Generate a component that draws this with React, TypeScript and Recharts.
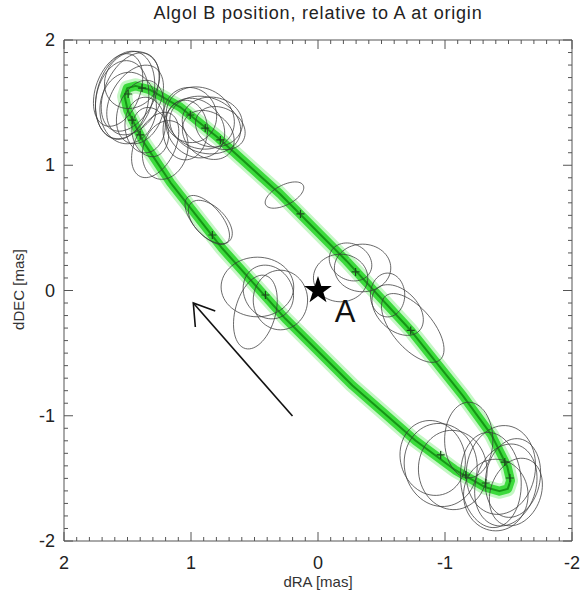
import { ScatterChart, Scatter, XAxis, YAxis } from 'recharts';

const W = 582;
const H = 591;
const FONT = '"Liberation Sans", Arial, sans-serif';

// fitted orbit of B around A, dRA / dDEC in mas
const orbitRA = [-0.225, -0.73, -1.14, -1.367, -1.49, -1.516, -1.494, -1.428, -1.318, -1.079, -0.767, -0.271, 0.256, 0.753, 1.16, 1.375, 1.498, 1.523, 1.502, 1.436, 1.326, 1.086, 0.787, 0.299, -0.225];
const orbitDEC = [0.236, -0.319, -0.839, -1.155, -1.405, -1.518, -1.584, -1.602, -1.571, -1.433, -1.198, -0.758, -0.226, 0.335, 0.86, 1.187, 1.437, 1.55, 1.616, 1.634, 1.603, 1.465, 1.219, 0.771, 0.236];

// error ellipses: centre, semi-major, semi-minor (mas), position angle (deg, N through E)
const ellRA = [1.519, 1.479, 1.542, 1.44, 1.495, 1.4, 1.574, 1.361, 1.464, 1.321, 1.282, 1.203,
  0.927, 0.888, 0.966, 0.832, 1.006, 0.864, 1.045, 0.769,
  0.872, 0.848, 0.264,
  0.477, 0.296, 0.493, 0.391,
  -0.178, -0.351, -0.256,
  -0.627, -0.746, -0.548,
  -0.966, -1.061, -0.903, -1.187, -1.44, -1.479, -1.4, -1.535, -1.361, -1.558];
const ellDEC = [1.561, 1.585, 1.521, 1.521, 1.457, 1.425, 1.601, 1.321, 1.681, 1.265, 1.162, 1.122,
  1.377, 1.321, 1.297, 1.345, 1.401, 1.242, 1.281, 1.297,
  0.563, 0.547, 0.762,
  0.028, -0.076, -0.172, -0.012,
  0.1, 0.18, 0.228,
  -0.156, -0.299, -0.036,
  -1.393, -1.433, -1.337, -1.194, -1.433, -1.553, -1.633, -1.497, -1.513, -1.609];
const ellMajor = [0.357, 0.333, 0.317, 0.302, 0.286, 0.262, 0.302, 0.222, 0.238, 0.198, 0.278, 0.238,
  0.278, 0.286, 0.254, 0.238, 0.222, 0.222, 0.238, 0.206,
  0.238, 0.214, 0.167,
  0.286, 0.238, 0.302, 0.222,
  0.214, 0.222, 0.175,
  0.238, 0.333, 0.175,
  0.333, 0.317, 0.302, 0.302, 0.357, 0.333, 0.286, 0.317, 0.381, 0.278];
const ellMinor = [0.222, 0.198, 0.206, 0.19, 0.222, 0.175, 0.175, 0.159, 0.206, 0.143, 0.159, 0.175,
  0.238, 0.222, 0.214, 0.198, 0.206, 0.175, 0.175, 0.159,
  0.111, 0.119, 0.079,
  0.238, 0.214, 0.159, 0.19,
  0.19, 0.19, 0.143,
  0.159, 0.159, 0.135,
  0.286, 0.27, 0.254, 0.19, 0.27, 0.238, 0.254, 0.214, 0.238, 0.198];
const ellPA = [-15, -25, -10, -30, -5, -20, -20, 0, -35, 10, -25, -15,
  60, 70, 40, 80, 20, 50, 0, 60,
  40, 45, -62,
  90, 0, -15, 30,
  90, 90, 60,
  45, 40, 0,
  10, 5, 15, 0, -10, -15, 0, -10, 5, -20];

// individual measurement positions
const obsRA = [1.495, 1.385, 1.464, 1.4, 1.006, 0.888, 0.769, 0.832, 0.138, 0.414, -0.296, -0.73, -0.966, -1.164, -1.321, -1.471, -1.511];
const obsDEC = [1.569, 1.616, 1.361, 1.242, 1.401, 1.297, 1.202, 0.443, 0.611, -0.036, 0.148, -0.319, -1.313, -1.473, -1.537, -1.37, -1.497];

// direction-of-motion arrow
const arrowRA = [0.201, 0.982];
const arrowDEC = [-1.002, -0.1];
const headRA = [0.809, 0.982, 0.966];
const headDEC = [-0.164, -0.1, -0.291];

const MAJOR_TICKS = [-2, -1, 0, 1, 2];
const ALL_TICKS = Array.from({ length: 41 }, (_, i) => Math.round((-2 + i * 0.1) * 10) / 10);

const toPts = (xs: number[], ys: number[]) => xs.map((x, i) => ({ x, y: ys[i] }));
const orbit = toPts(orbitRA, orbitDEC);
const obs = toPts(obsRA, obsDEC);
const arrow = toPts(arrowRA, arrowDEC);
const head = toPts(headRA, headDEC);

const ellipses = ellRA.map((cx, i) => {
  const pa = (ellPA[i] * Math.PI) / 180;
  const pts = [];
  for (let k = 0; k <= 64; k++) {
    const t = (2 * Math.PI * k) / 64;
    const u = ellMajor[i] * Math.cos(t);
    const v = ellMinor[i] * Math.sin(t);
    pts.push({ x: cx + u * Math.sin(pa) + v * Math.cos(pa), y: ellDEC[i] + u * Math.cos(pa) - v * Math.sin(pa) });
  }
  return pts;
});

const isMajor = (v: number) => MAJOR_TICKS.includes(v);
const noShape = () => <g />;

function AxisTick(props: any) {
  const { x, y, payload, side } = props;
  const v = payload.value;
  const len = isMajor(v) ? 9 : 4;
  const lab = v < 0 ? '-' + Math.abs(v) : String(v);
  if (side === 'bottom') {
    return (
      <g>
        <line x1={x} x2={x} y1={y} y2={y - len} stroke="#555" />
        {isMajor(v) && (
          <text x={x} y={y + 28} textAnchor="middle" fontSize={18} fontFamily={FONT} fill="#222">{lab}</text>
        )}
      </g>
    );
  }
  if (side === 'top') return <line x1={x} x2={x} y1={y} y2={y + len} stroke="#555" />;
  if (side === 'left') {
    return (
      <g>
        <line x1={x} x2={x + len} y1={y} y2={y} stroke="#555" />
        {isMajor(v) && (
          <text x={x - 9} y={y + 6} textAnchor="end" fontSize={18} fontFamily={FONT} fill="#222">{lab}</text>
        )}
      </g>
    );
  }
  return <line x1={x} x2={x - len} y1={y} y2={y} stroke="#555" />;
}

function Cross({ cx, cy }: any) {
  return <path d={`M${cx - 4},${cy}h8M${cx},${cy - 4}v8`} stroke="#1d4a1d" strokeWidth={1.2} />;
}

function StarA({ cx, cy }: any) {
  let d = '';
  for (let k = 0; k < 10; k++) {
    const ang = -Math.PI / 2 + (k * Math.PI) / 5;
    const r = k % 2 === 0 ? 14.5 : 5.6;
    d += (k ? 'L' : 'M') + (cx + r * Math.cos(ang)).toFixed(2) + ',' + (cy + r * Math.sin(ang)).toFixed(2);
  }
  return (
    <g>
      <path d={d + 'Z'} fill="#000" />
      <text x={cx + 27} y={cy + 31} fontSize={31} textAnchor="middle" fontFamily={FONT} fill="#111">A</text>
    </g>
  );
}

export default function App() {
  return (
    <div style={{ position: 'absolute', left: 0, top: 0, width: W, height: H, fontFamily: FONT, overflow: 'hidden' }}>
      <ScatterChart width={W} height={H} margin={{ top: 39, right: 9, bottom: 0, left: 0 }}>
        <XAxis type="number" dataKey="x" domain={[-2, 2]} reversed allowDataOverflow ticks={ALL_TICKS} interval={0}
          tickSize={0} tickMargin={0} tickLine={false} axisLine={{ stroke: '#555' }} height={50}
          tick={(p: any) => <AxisTick {...p} side="bottom" />} />
        <XAxis xAxisId="t" orientation="top" type="number" dataKey="x" domain={[-2, 2]} reversed allowDataOverflow
          ticks={ALL_TICKS} interval={0} tickSize={0} tickMargin={0} tickLine={false} axisLine={{ stroke: '#555' }} height={1}
          tick={(p: any) => <AxisTick {...p} side="top" />} />
        <YAxis type="number" dataKey="y" domain={[-2, 2]} allowDataOverflow ticks={ALL_TICKS} interval={0}
          tickSize={0} tickMargin={0} tickLine={false} axisLine={{ stroke: '#555' }} width={64}
          tick={(p: any) => <AxisTick {...p} side="left" />} />
        <YAxis yAxisId="r" orientation="right" type="number" dataKey="y" domain={[-2, 2]} allowDataOverflow
          ticks={ALL_TICKS} interval={0} tickSize={0} tickMargin={0} tickLine={false} axisLine={{ stroke: '#555' }} width={1}
          tick={(p: any) => <AxisTick {...p} side="right" />} />

        <Scatter xAxisId="t" yAxisId="r" data={[{ x: 0, y: 0 }]} shape={noShape} isAnimationActive={false} />

        <Scatter data={orbit} shape={noShape} line={{ stroke: '#7dee7d', strokeWidth: 15, strokeOpacity: 0.45, strokeLinejoin: 'round' }} isAnimationActive={false} />
        <Scatter data={orbit} shape={noShape} line={{ stroke: '#2dd62d', strokeWidth: 9, strokeOpacity: 0.9, strokeLinejoin: 'round' }} isAnimationActive={false} />
        <Scatter data={orbit} shape={noShape} line={{ stroke: '#169516', strokeWidth: 2, strokeLinejoin: 'round' }} isAnimationActive={false} />

        {ellipses.map((pts, i) => (
          <Scatter key={'e' + i} data={pts} shape={noShape} line={{ stroke: '#3a3a3a', strokeWidth: 0.9, strokeOpacity: 0.85 }} isAnimationActive={false} />
        ))}

        <Scatter data={obs} shape={Cross} isAnimationActive={false} />
        <Scatter data={arrow} shape={noShape} line={{ stroke: '#111', strokeWidth: 1.6 }} isAnimationActive={false} />
        <Scatter data={head} shape={noShape} line={{ stroke: '#111', strokeWidth: 1.6 }} isAnimationActive={false} />
        <Scatter data={[{ x: 0, y: 0 }]} shape={StarA} isAnimationActive={false} />
      </ScatterChart>

      <div style={{ position: 'absolute', left: 0, width: 636, top: 3, textAlign: 'center', fontSize: 18, letterSpacing: 0.8, color: '#222' }}>
        Algol B position, relative to A at origin
      </div>
      <div style={{ position: 'absolute', left: 218, width: 200, top: 573, textAlign: 'center', fontSize: 15, color: '#333' }}>
        dRA [mas]
      </div>
      <div style={{ position: 'absolute', left: -82, width: 200, top: 281, textAlign: 'center', fontSize: 15, color: '#333', transform: 'rotate(-90deg)' }}>
        dDEC [mas]
      </div>
    </div>
  );
}
